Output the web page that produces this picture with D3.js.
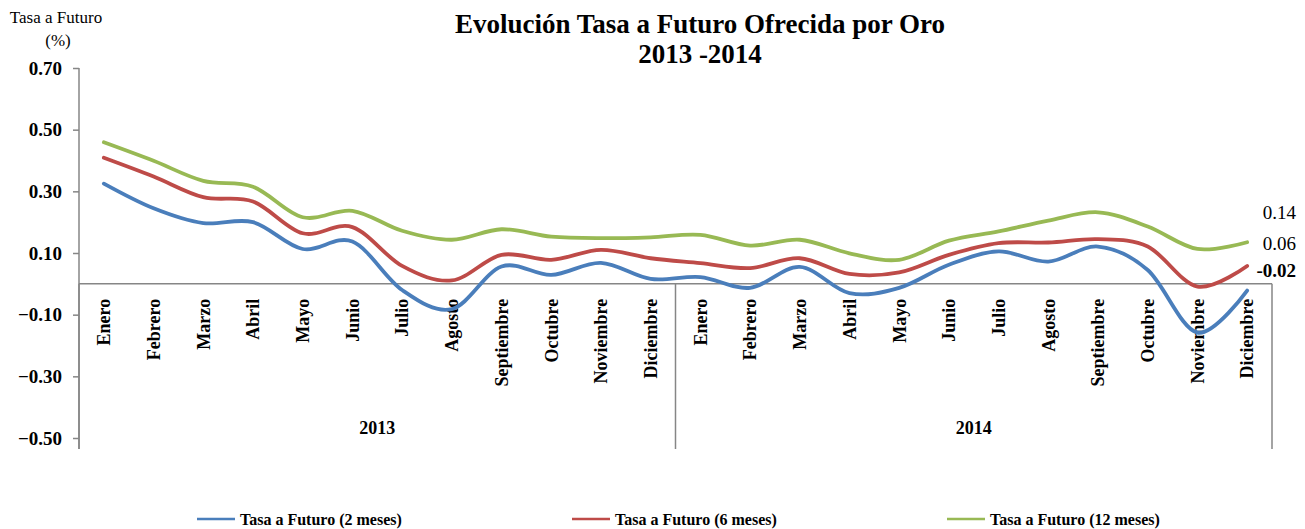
<!DOCTYPE html>
<html>
<head>
<meta charset="utf-8">
<script src="https://cdn.jsdelivr.net/npm/d3@7/dist/d3.min.js"></script>
<style>
  html, body { margin: 0; padding: 0; background: #fff; }
  svg { display: block; }
  svg text { font-family: "Liberation Serif", "Times New Roman", Times, "DejaVu Serif", serif !important; }
</style>
</head>
<body>
<svg id="chart" width="1305" height="529"></svg>
<script>
const months = ["Enero","Febrero","Marzo","Abril","Mayo","Junio","Julio","Agosto","Septiembre","Octubre","Noviembre","Diciembre"];
const years = ["2013","2014"];
const categories = years.flatMap(y => months.map(m => y + "-" + m));

const serie2m  = [0.325, 0.245, 0.197, 0.200, 0.113, 0.137, -0.020, -0.082, 0.056, 0.029, 0.068, 0.016,
                  0.022, -0.013, 0.055, -0.030, -0.013, 0.062, 0.105, 0.072, 0.121, 0.045, -0.158, -0.022];
const serie6m  = [0.409, 0.348, 0.281, 0.267, 0.164, 0.184, 0.058, 0.011, 0.094, 0.078, 0.110, 0.083,
                  0.067, 0.051, 0.083, 0.032, 0.037, 0.094, 0.132, 0.134, 0.145, 0.121, -0.009, 0.058];
const serie12m = [0.459, 0.399, 0.334, 0.315, 0.216, 0.237, 0.172, 0.143, 0.177, 0.153, 0.148, 0.151,
                  0.159, 0.124, 0.143, 0.099, 0.078, 0.140, 0.170, 0.205, 0.232, 0.186, 0.113, 0.135];

const seriesNames = ["Tasa a Futuro (2 meses)", "Tasa a Futuro (6 meses)", "Tasa a Futuro (12 meses)"];
const yTicks = [-0.5, -0.3, -0.1, 0.1, 0.3, 0.5, 0.7];
const endLabels = ["0.14", "0.06", "-0.02"];
const endLabelValues = [0.14, 0.06, -0.02];

const colors = ["#4A7EBB", "#BE4B48", "#98B954"];
const seriesData = [serie2m, serie6m, serie12m];

const svg = d3.select("#chart");
const plotLeft = 79, plotRight = 1272, plotTop = 68, plotBottom = 438, catBottom = 449;

const x = d3.scaleBand().domain(categories).range([plotLeft, plotRight]).padding(0);
const y = d3.scaleLinear().domain([-0.5, 0.7]).range([plotBottom, plotTop]);
const cx = c => x(c) + x.bandwidth() / 2;
const axisColor = "#868686";

// Title
svg.append("text").attr("x", 700).attr("y", 33).attr("text-anchor", "middle")
  .style("font-size", "27px").style("font-weight", "bold")
  .text("Evolución Tasa a Futuro Ofrecida por Oro");
svg.append("text").attr("x", 700).attr("y", 63).attr("text-anchor", "middle")
  .style("font-size", "27px").style("font-weight", "bold")
  .text("2013 -2014");

// Y axis title
svg.append("text").attr("x", 56).attr("y", 23).attr("text-anchor", "middle")
  .style("font-size", "17px").text("Tasa a Futuro");
svg.append("text").attr("x", 58).attr("y", 46).attr("text-anchor", "middle")
  .style("font-size", "17px").text("(%)");

// Value axis
const yAxis = d3.axisLeft(y).tickValues(yTicks).tickSize(6).tickPadding(11)
  .tickFormat(d3.format(".2f"));
const gy = svg.append("g").attr("transform", `translate(${plotLeft},0)`).call(yAxis);
gy.select(".domain").remove();
gy.selectAll(".tick line").attr("stroke", axisColor).attr("stroke-width", 1.5);
gy.selectAll(".tick text").style("font-size", "19px").style("font-weight", "bold").attr("fill", "#000");
svg.append("line").attr("x1", plotLeft).attr("x2", plotLeft).attr("y1", y(0.7)).attr("y2", catBottom)
  .attr("stroke", axisColor).attr("stroke-width", 1.5);

// Category axis at zero
const xAxis = d3.axisBottom(x).tickSize(0).tickFormat(c => c.split("-")[1]);
const gx = svg.append("g").attr("transform", `translate(0,${y(0)})`).call(xAxis);
gx.select(".domain").remove();
gx.selectAll(".tick text")
  .attr("transform", "rotate(-90)")
  .attr("x", -15).attr("y", 0).attr("dy", "0.35em")
  .style("text-anchor", "end")
  .style("font-size", "18px").style("font-weight", "bold").attr("fill", "#000");

svg.append("line").attr("x1", plotLeft).attr("x2", plotRight).attr("y1", y(0)).attr("y2", y(0))
  .attr("stroke", axisColor).attr("stroke-width", 1.5);
// year group separators
const sepX = [plotLeft, x(years[1] + "-" + months[0]), plotRight];
sepX.forEach(sx => {
  svg.append("line").attr("x1", sx).attr("x2", sx).attr("y1", y(0)).attr("y2", catBottom)
    .attr("stroke", axisColor).attr("stroke-width", 1.5);
});
years.forEach((yr, i) => {
  svg.append("text").attr("x", (sepX[i] + sepX[i + 1]) / 2).attr("y", 434)
    .attr("text-anchor", "middle").style("font-size", "18px").style("font-weight", "bold")
    .text(yr);
});

// Series lines
const line = d3.line().x((d, i) => cx(categories[i])).y(d => y(d)).curve(d3.curveCardinal.tension(0));
seriesData.forEach((s, k) => {
  svg.append("path").datum(s).attr("d", line).attr("fill", "none")
    .attr("stroke", colors[k]).attr("stroke-width", 3.8)
    .attr("stroke-linejoin", "round").attr("stroke-linecap", "round");
});

// End labels
const endOffsets = [-22, -15, -13];
endLabels.forEach((t, i) => {
  svg.append("text").attr("x", 1296).attr("y", y(endLabelValues[i]) + endOffsets[i])
    .attr("text-anchor", "end").style("font-size", "19px")
    .style("font-weight", i === 2 ? "bold" : "normal").text(t);
});

// Legend
const legendX = [197, 572, 947];
seriesNames.forEach((n, i) => {
  svg.append("line").attr("x1", legendX[i]).attr("x2", legendX[i] + 38)
    .attr("y1", 519).attr("y2", 519).attr("stroke", colors[i]).attr("stroke-width", 2.5);
  svg.append("text").attr("x", legendX[i] + 43).attr("y", 525)
    .style("font-size", "16px").style("font-weight", "bold").text(n);
});
</script>
</body>
</html>
